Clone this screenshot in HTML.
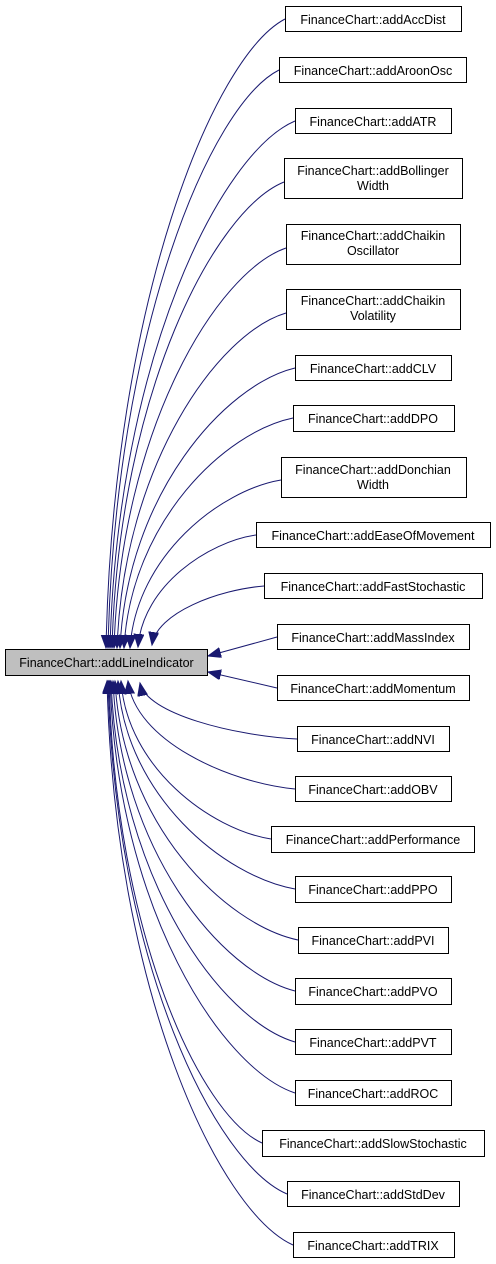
<!DOCTYPE html>
<html><head><meta charset="utf-8"><style>
html,body{margin:0;padding:0;background:#fff;}
svg{display:block;}
text{font-family:"Liberation Sans",Helvetica,sans-serif;font-size:12.5px;fill:#000;}
</style></head><body>
<svg id="s" width="496" height="1264" viewBox="0 0 496 1264" xmlns="http://www.w3.org/2000/svg">
<defs><marker id="a" markerUnits="userSpaceOnUse" markerWidth="16" markerHeight="12" refX="13" refY="5" orient="auto"><path d="M0,0 L13,5 L0,10 Z" fill="#191970" stroke="#191970"/></marker></defs>
<g id="edges" fill="none" stroke="#191970" stroke-width="1"></g>
<rect x="5.5" y="649.5" width="202" height="26" fill="#bfbfbf" stroke="#000"/>
<text x="106.5" y="667" text-anchor="middle">FinanceChart::addLineIndicator</text>
<g id="nodes" fill="#fff" stroke="#000">
<rect x="285.5" y="6.5" width="176" height="25"/>
<rect x="279.5" y="57.5" width="187" height="25"/>
<rect x="295.5" y="108.5" width="156" height="25"/>
<rect x="284.5" y="158.5" width="178" height="40"/>
<rect x="286.5" y="224.5" width="174" height="40"/>
<rect x="286.5" y="289.5" width="174" height="40"/>
<rect x="295.5" y="355.5" width="156" height="25"/>
<rect x="293.5" y="405.5" width="161" height="26"/>
<rect x="281.5" y="457.5" width="185" height="40"/>
<rect x="256.5" y="522.5" width="234" height="25"/>
<rect x="264.5" y="573.5" width="218" height="25"/>
<rect x="277.5" y="624.5" width="192" height="25"/>
<rect x="277.5" y="675.5" width="192" height="25"/>
<rect x="297.5" y="726.5" width="152" height="25"/>
<rect x="295.5" y="776.5" width="156" height="25"/>
<rect x="271.5" y="826.5" width="203" height="26"/>
<rect x="295.5" y="876.5" width="156" height="26"/>
<rect x="298.5" y="927.5" width="150" height="26"/>
<rect x="295.5" y="978.5" width="156" height="26"/>
<rect x="295.5" y="1029.5" width="156" height="25"/>
<rect x="295.5" y="1080.5" width="156" height="25"/>
<rect x="262.5" y="1130.5" width="222" height="26"/>
<rect x="287.5" y="1181.5" width="172" height="25"/>
<rect x="293.5" y="1232.5" width="161" height="25"/>
</g>
<g text-anchor="middle">
<text x="373" y="24">FinanceChart::addAccDist</text>
<text x="373" y="75">FinanceChart::addAroonOsc</text>
<text x="373" y="126">FinanceChart::addATR</text>
<text x="373" y="175">FinanceChart::addBollinger</text><text x="373" y="190">Width</text>
<text x="373" y="240">FinanceChart::addChaikin</text><text x="373" y="255">Oscillator</text>
<text x="373" y="305">FinanceChart::addChaikin</text><text x="373" y="320">Volatility</text>
<text x="373" y="373">FinanceChart::addCLV</text>
<text x="373" y="423">FinanceChart::addDPO</text>
<text x="373" y="474">FinanceChart::addDonchian</text><text x="373" y="489">Width</text>
<text x="373" y="540">FinanceChart::addEaseOfMovement</text>
<text x="373" y="591">FinanceChart::addFastStochastic</text>
<text x="373" y="642">FinanceChart::addMassIndex</text>
<text x="373" y="693">FinanceChart::addMomentum</text>
<text x="373" y="744">FinanceChart::addNVI</text>
<text x="373" y="794">FinanceChart::addOBV</text>
<text x="373" y="844">FinanceChart::addPerformance</text>
<text x="373" y="894">FinanceChart::addPPO</text>
<text x="373" y="945">FinanceChart::addPVI</text>
<text x="373" y="996">FinanceChart::addPVO</text>
<text x="373" y="1047">FinanceChart::addPVT</text>
<text x="373" y="1098">FinanceChart::addROC</text>
<text x="373" y="1148">FinanceChart::addSlowStochastic</text>
<text x="373" y="1199">FinanceChart::addStdDev</text>
<text x="373" y="1250">FinanceChart::addTRIX</text>
</g>
</svg>
<script>
var E=[
[285,19,106,648],[279,70,108,648],[295,121,110,648],[284,182,112,648],[286,248,114,648],[286,313,117,648],[295,368,120,648],[293,418,124,648],[281,480,130,648],[256,535,138,647],[264,586,152,645],
[277,637,208,656,1],[277,688,208,672,1],
[297,739,140,683],[295,789,128,681],[271,839,121,681],[295,889,118,681],[298,940,115,681],[295,991,113,681],[295,1042,111,681],[295,1093,110,681],[262,1143,109,681],[287,1194,108,681],[293,1245,107,681]];
var g=document.getElementById('edges'),h='';
E.forEach(function(e){var xs=e[0],ys=e[1],ex=e[2],ey=e[3];
if(e[4]){h+='<path d="M'+xs+','+ys+' L'+ex+','+ey+'" marker-end="url(#a)"/>';return;}
var c1x=xs-(xs-ex)*0.4,c1y=ys+(ey-ys)*0.06,c2x=ex+(xs-ex)*0.04,c2y=ys+(ey-ys)*0.45;
h+='<path d="M'+xs+','+ys+' C'+c1x+','+c1y+' '+c2x+','+c2y+' '+ex+','+ey+'" marker-end="url(#a)"/>';});
g.innerHTML=h;
</script>
</body></html>
